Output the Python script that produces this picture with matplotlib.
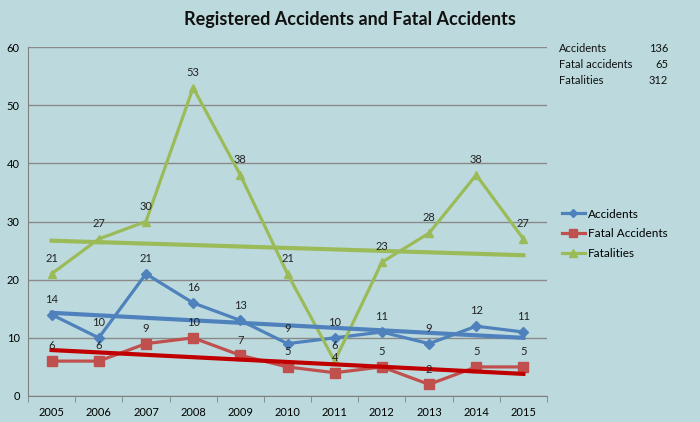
import numpy as np
import matplotlib
matplotlib.use("Agg")
import matplotlib.pyplot as plt

plt.rcParams['font.family'] = ['Lato', 'DejaVu Sans']

# Data
years = ['2005', '2006', '2007', '2008', '2009', '2010', '2011', '2012', '2013', '2014', '2015']
accidents = [14, 10, 21, 16, 13, 9, 10, 11, 9, 12, 11]
fatal_accidents = [6, 6, 9, 10, 7, 5, 4, 5, 2, 5, 5]
fatalities = [21, 27, 30, 53, 38, 21, 6, 23, 28, 38, 27]

# Linear trend lines (start, end values as drawn)
trend_accidents = [14.3, 10.0]
trend_fatal = [7.9, 3.8]
trend_fatalities = [26.7, 24.2]

totals_labels = ['Accidents', 'Fatal accidents', 'Fatalities']
totals_values = ['136', '65', '312']

blue = '#4f81bd'
red = '#c0504d'
green = '#9bbb59'
bg = '#bcdadd'

fig = plt.figure(figsize=(7, 4.22), dpi=100)
fig.patch.set_facecolor(bg)
ax = fig.add_axes([28 / 700, 26 / 422, 519 / 700, 349 / 422])
ax.set_facecolor('none')

x = np.arange(len(years))
ends = [x[0], x[-1]]

ax.plot(x, accidents, color=blue, lw=2.3, marker='D', ms=5, label='Accidents', zorder=3)
ax.plot(x, fatal_accidents, color=red, lw=2.3, marker='s', ms=6.5, label='Fatal Accidents', zorder=3)
ax.plot(x, fatalities, color=green, lw=2.3, marker='^', ms=6, label='Fatalities', zorder=3)

ax.plot(ends, trend_accidents, color=blue, lw=3, zorder=4)
ax.plot(ends, trend_fatal, color='#c00000', lw=3, zorder=4)
ax.plot(ends, trend_fatalities, color=green, lw=3, zorder=4)

for series in (accidents, fatal_accidents, fatalities):
    for xi, v in zip(x, series):
        ax.annotate(str(v), (xi, v), xytext=(0, 7), textcoords='offset points',
                    ha='center', va='bottom', fontsize=8, color='#222222', zorder=5)

ax.set_xlim(-0.5, len(years) - 0.5)
ax.set_ylim(0, 60)
ax.set_yticks(range(0, 61, 10))
ax.set_xticks(x)
ax.set_xticklabels(years)
ax.set_xticks(np.arange(-0.5, len(years)), minor=True)
ax.tick_params(axis='x', which='major', length=0, labelsize=8, pad=8)
ax.tick_params(axis='x', which='minor', length=4, color='#808080')
ax.tick_params(axis='y', length=0, labelsize=8, pad=6)
ax.yaxis.grid(True, color='#8a8a8a', lw=1)
ax.set_axisbelow(True)
for side in ('top', 'right'):
    ax.spines[side].set_visible(False)
for side in ('left', 'bottom'):
    ax.spines[side].set_color('#808080')

fig.text(350 / 700, 1 - 20 / 422, 'Registered Accidents and Fatal Accidents',
         ha='center', va='center', fontsize=13, fontweight='bold', color='#111111')

for i, (lab, val) in enumerate(zip(totals_labels, totals_values)):
    yy = 1 - (49 + 16 * i) / 422
    fig.text(559 / 700, yy, lab, ha='left', va='center', fontsize=8, color='#111111')
    fig.text(668 / 700, yy, val, ha='right', va='center', fontsize=8, color='#111111')

fig.legend(loc='upper left', bbox_to_anchor=(551 / 700, 1 - 198 / 422), frameon=False,
           fontsize=8.5, handlelength=2.0, labelspacing=0.75, handletextpad=0.2,
           markerscale=0.9)

fig.savefig('out.png', dpi=100, facecolor=fig.get_facecolor())
